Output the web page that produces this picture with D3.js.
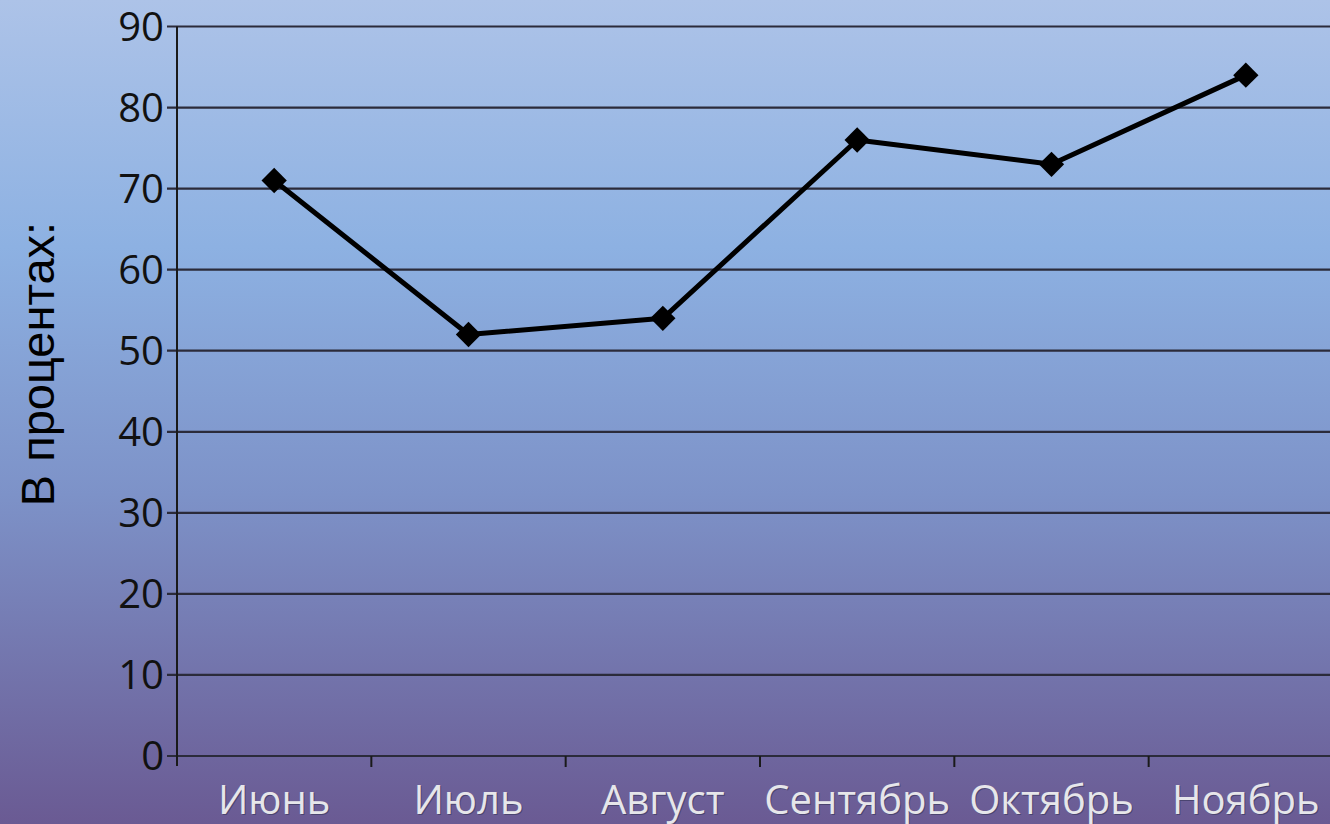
<!DOCTYPE html>
<html>
<head>
<meta charset="utf-8">
<script src="https://cdn.jsdelivr.net/npm/d3@7"></script>
<style>
  html, body { margin: 0; padding: 0; overflow: hidden; }
  svg { display: block; }
</style>
</head>
<body>
<svg id="chart" width="1330" height="824"></svg>
<script>
var months = ["Июнь", "Июль", "Август", "Сентябрь", "Октябрь", "Ноябрь"];
var values = [71, 52, 54, 76, 73, 84];
var yTicks = [0, 10, 20, 30, 40, 50, 60, 70, 80, 90];
var yTitle = "В процентах:";

var W = 1330, H = 824;
var plotLeft = 177, plotRight = 1343, plotTop = 26.5, plotBottom = 756;

var svg = d3.select('#chart');

var defs = svg.append('defs');
var grad = defs.append('linearGradient')
    .attr('id', 'bg')
    .attr('x1', 0).attr('y1', 0)
    .attr('x2', 0).attr('y2', 1);
grad.append('stop').attr('offset', '0%').attr('stop-color', '#adc3e8');
grad.append('stop').attr('offset', '30%').attr('stop-color', '#8db1e2');
grad.append('stop').attr('offset', '60%').attr('stop-color', '#7d92c8');
grad.append('stop').attr('offset', '100%').attr('stop-color', '#6a5a93');

svg.append('rect')
    .attr('width', W)
    .attr('height', H)
    .attr('fill', 'url(#bg)');

var x = d3.scaleBand()
    .domain(months)
    .range([plotLeft, plotRight]);

var y = d3.scaleLinear()
    .domain([0, 90])
    .range([plotBottom, plotTop]);

// horizontal gridlines
svg.append('g')
    .selectAll('line')
    .data(yTicks)
    .enter().append('line')
    .attr('x1', plotLeft - 10)
    .attr('x2', W)
    .attr('y1', function (d) { return y(d); })
    .attr('y2', function (d) { return y(d); })
    .attr('stroke', '#2b2b3a')
    .attr('stroke-width', 2.2);

// y axis line
svg.append('line')
    .attr('x1', plotLeft).attr('x2', plotLeft)
    .attr('y1', y(90)).attr('y2', plotBottom + 10)
    .attr('stroke', '#1a1a1a')
    .attr('stroke-width', 2);

// y tick labels
svg.append('g')
    .selectAll('text')
    .data(yTicks)
    .enter().append('text')
    .attr('x', plotLeft - 13)
    .attr('y', function (d) { return y(d); })
    .attr('dy', '0.36em')
    .attr('text-anchor', 'end')
    .style('font-family', '"Open Sans", sans-serif')
    .style('font-size', '40px')
    .attr('fill', '#111')
    .text(function (d) { return d; });

// x axis ticks at category boundaries
var bounds = months.map(function (m) { return x(m); });
svg.append('g')
    .selectAll('line')
    .data(bounds.slice(1))
    .enter().append('line')
    .attr('x1', function (d) { return d; })
    .attr('x2', function (d) { return d; })
    .attr('y1', plotBottom)
    .attr('y2', plotBottom + 11)
    .attr('stroke', '#1a1a1a')
    .attr('stroke-width', 2);

// x labels (light text with a faint dark shadow)
var xl = svg.append('g')
    .selectAll('text')
    .data(months)
    .enter();
xl.append('text')
    .attr('x', function (d) { return x(d) + x.bandwidth() / 2 + 1; })
    .attr('y', 815)
    .attr('text-anchor', 'middle')
    .style('font-family', '"Open Sans", sans-serif')
    .style('font-size', '40px')
    .attr('fill', '#4a4470')
    .text(function (d) { return d; });
xl.append('text')
    .attr('x', function (d) { return x(d) + x.bandwidth() / 2; })
    .attr('y', 814)
    .attr('text-anchor', 'middle')
    .style('font-family', '"Open Sans", sans-serif')
    .style('font-size', '40px')
    .attr('fill', '#e6e6ea')
    .text(function (d) { return d; });

// y title
svg.append('text')
    .attr('transform', 'translate(54,364) rotate(-90)')
    .attr('text-anchor', 'middle')
    .style('font-family', '"Liberation Sans", Arial, sans-serif')
    .style('font-size', '47px')
    .attr('fill', '#000')
    .text(yTitle);

// line
var line = d3.line()
    .x(function (d, i) { return x(months[i]) + x.bandwidth() / 2; })
    .y(function (d) { return y(d); });

svg.append('path')
    .datum(values)
    .attr('d', line)
    .attr('fill', 'none')
    .attr('stroke', '#000')
    .attr('stroke-width', 5)
    .attr('stroke-linejoin', 'round');

svg.append('g')
    .selectAll('path')
    .data(values)
    .enter().append('path')
    .attr('d', d3.symbol().type(d3.symbolSquare).size(320))
    .attr('transform', function (d, i) {
        return 'translate(' + (x(months[i]) + x.bandwidth() / 2) + ',' + y(d) + ') rotate(45)';
    })
    .attr('fill', '#000');
</script>
</body>
</html>
